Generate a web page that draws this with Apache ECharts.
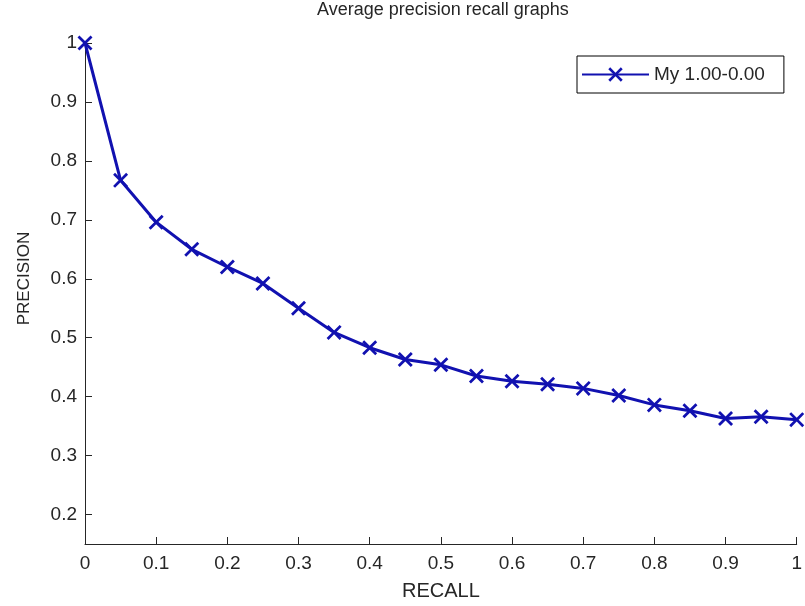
<!DOCTYPE html>
<html>
<head>
<meta charset="utf-8">
<script src="https://cdn.jsdelivr.net/npm/echarts@6/dist/echarts.min.js"></script>
<style>html,body{margin:0;padding:0;background:#fff;}#c{width:805px;height:606px;}</style>
</head>
<body>
<div id="c"></div>
<script>
const recall = [0, 0.05, 0.1, 0.15, 0.2, 0.25, 0.3, 0.35, 0.4, 0.45, 0.5, 0.55, 0.6, 0.65, 0.7, 0.75, 0.8, 0.85, 0.9, 0.95, 1.0];
const precision = [1.0, 0.767, 0.696, 0.650, 0.620, 0.592, 0.550, 0.509, 0.483, 0.463, 0.454, 0.435, 0.426, 0.421, 0.414, 0.402, 0.386, 0.376, 0.363, 0.366, 0.361];
const seriesName = 'My 1.00-0.00';
const titleText = 'Average precision recall graphs';
const xName = 'RECALL';
const yName = 'PRECISION';

const FONT = '"Liberation Sans", Arial, sans-serif';
const TXT = '#262626';
const BLUE = '#1111b0';
const xMark = 'path://M0,1.3 L1.3,0 L5,3.7 L8.7,0 L10,1.3 L6.3,5 L10,8.7 L8.7,10 L5,6.3 L1.3,10 L0,8.7 L3.7,5 Z';

const chart = echarts.init(document.getElementById('c'), null, {renderer: 'canvas'});
chart.setOption({
  backgroundColor: '#fff',
  animation: false,
  title: {
    text: titleText,
    left: 317,
    top: 1,
    padding: 0,
    textStyle: {fontFamily: FONT, fontSize: 18, fontWeight: 'normal', color: TXT}
  },
  legend: {
    data: [seriesName],
    left: 577,
    top: 56,
    orient: 'vertical',
    padding: [9, 19, 9, 4],
    itemWidth: 67,
    itemHeight: 18,
    borderColor: '#000',
    borderWidth: 1,
    backgroundColor: '#fff',
    textStyle: {fontFamily: FONT, fontSize: 19, color: TXT}
  },
  grid: {left: 85, right: 4, top: 43, bottom: 61, containLabel: false},
  xAxis: {
    type: 'value',
    min: 0, max: 1, interval: 0.1,
    name: xName,
    nameLocation: 'middle',
    nameGap: 37,
    nameTextStyle: {fontFamily: FONT, fontSize: 20, color: TXT},
    axisLine: {show: true, lineStyle: {color: TXT, width: 1}},
    axisTick: {show: true, inside: true, length: 7, lineStyle: {color: TXT}},
    axisLabel: {fontFamily: FONT, fontSize: 19, color: TXT, margin: 10},
    splitLine: {show: false}
  },
  yAxis: {
    type: 'value',
    min: 0.15, max: 1, splitNumber: 8,
    name: yName,
    nameLocation: 'middle',
    nameGap: 52,
    nameRotate: 90,
    nameTextStyle: {fontFamily: FONT, fontSize: 17, color: TXT, padding: [0, 0, 0, 30]},
    axisLine: {show: true, lineStyle: {color: TXT, width: 1}},
    axisTick: {show: true, inside: true, length: 7, lineStyle: {color: TXT}},
    axisLabel: {fontFamily: FONT, fontSize: 19, color: TXT, margin: 8, showMinLabel: false},
    splitLine: {show: false}
  },
  series: [{
    name: seriesName,
    type: 'line',
    data: recall.map((r, i) => [r, precision[i]]),
    symbol: xMark,
    symbolSize: 15,
    showAllSymbol: true,
    clip: false,
    lineStyle: {color: BLUE, width: 3},
    itemStyle: {color: BLUE, borderWidth: 0}
  }]
});
</script>
</body>
</html>
